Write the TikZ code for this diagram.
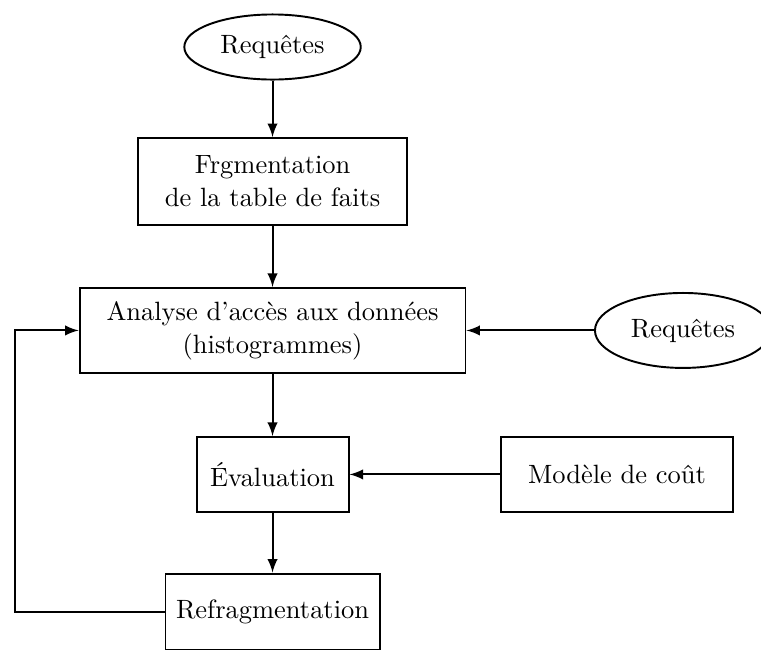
\documentclass[tikz,border=0pt]{standalone}
\usepackage{xcolor}
\usepackage{tikz}
\usetikzlibrary{shapes.geometric}
\tikzset{
  etape/.style={draw, line width=0.7pt, text centered, align=center, inner sep=0pt, font=\fontsize{9.6}{12}\selectfont},
  source/.style={draw, ellipse, line width=0.7pt, inner sep=0pt, font=\fontsize{9.6}{12}\selectfont},
  fleche/.style={line width=0.7pt, -latex}
}

\begin{document}
\begin{tikzpicture}%
\useasboundingbox (0,0) rectangle (9.703000, 8.287500);%
\node[source, minimum width=2.250000cm, minimum height=0.830000cm] (req1) at (3.475000, 7.688000) {Requêtes};%
\node[etape, minimum width=3.430000cm, minimum height=1.109000cm] (frag) at (3.475000, 5.973000) {Frgmentation\\de la table de faits};%
\node[etape, minimum width=4.920000cm, minimum height=1.084000cm] (analyse) at (3.475000, 4.074000) {Analyse d'accès aux données\\(histogrammes)};%
\node[source, minimum width=2.244000cm, minimum height=0.956000cm] (req2) at (8.708000, 4.074000) {Requêtes};%
\node[etape, minimum width=1.938000cm, minimum height=0.956000cm] (eval) at (3.475000, 2.238000) {Évaluation};%
\node[etape, minimum width=2.958000cm, minimum height=0.956000cm] (modele) at (7.867000, 2.238000) {Modèle de coût};%
\node[etape, minimum width=2.729000cm, minimum height=0.980000cm] (refrag) at (3.475000, 0.484500) {Refragmentation};%
\coordinate (retour) at (0.191000, 0.484500);%
\draw[fleche] (req1) -- (frag);%
\draw[fleche] (frag) -- (analyse);%
\draw[fleche] (req2) -- (analyse);%
\draw[fleche] (analyse) -- (eval);%
\draw[fleche] (modele) -- (eval);%
\draw[fleche] (eval) -- (refrag);%
\draw[fleche] (refrag.west) -- (retour) |- (analyse.west);%
\end{tikzpicture}
\end{document}
